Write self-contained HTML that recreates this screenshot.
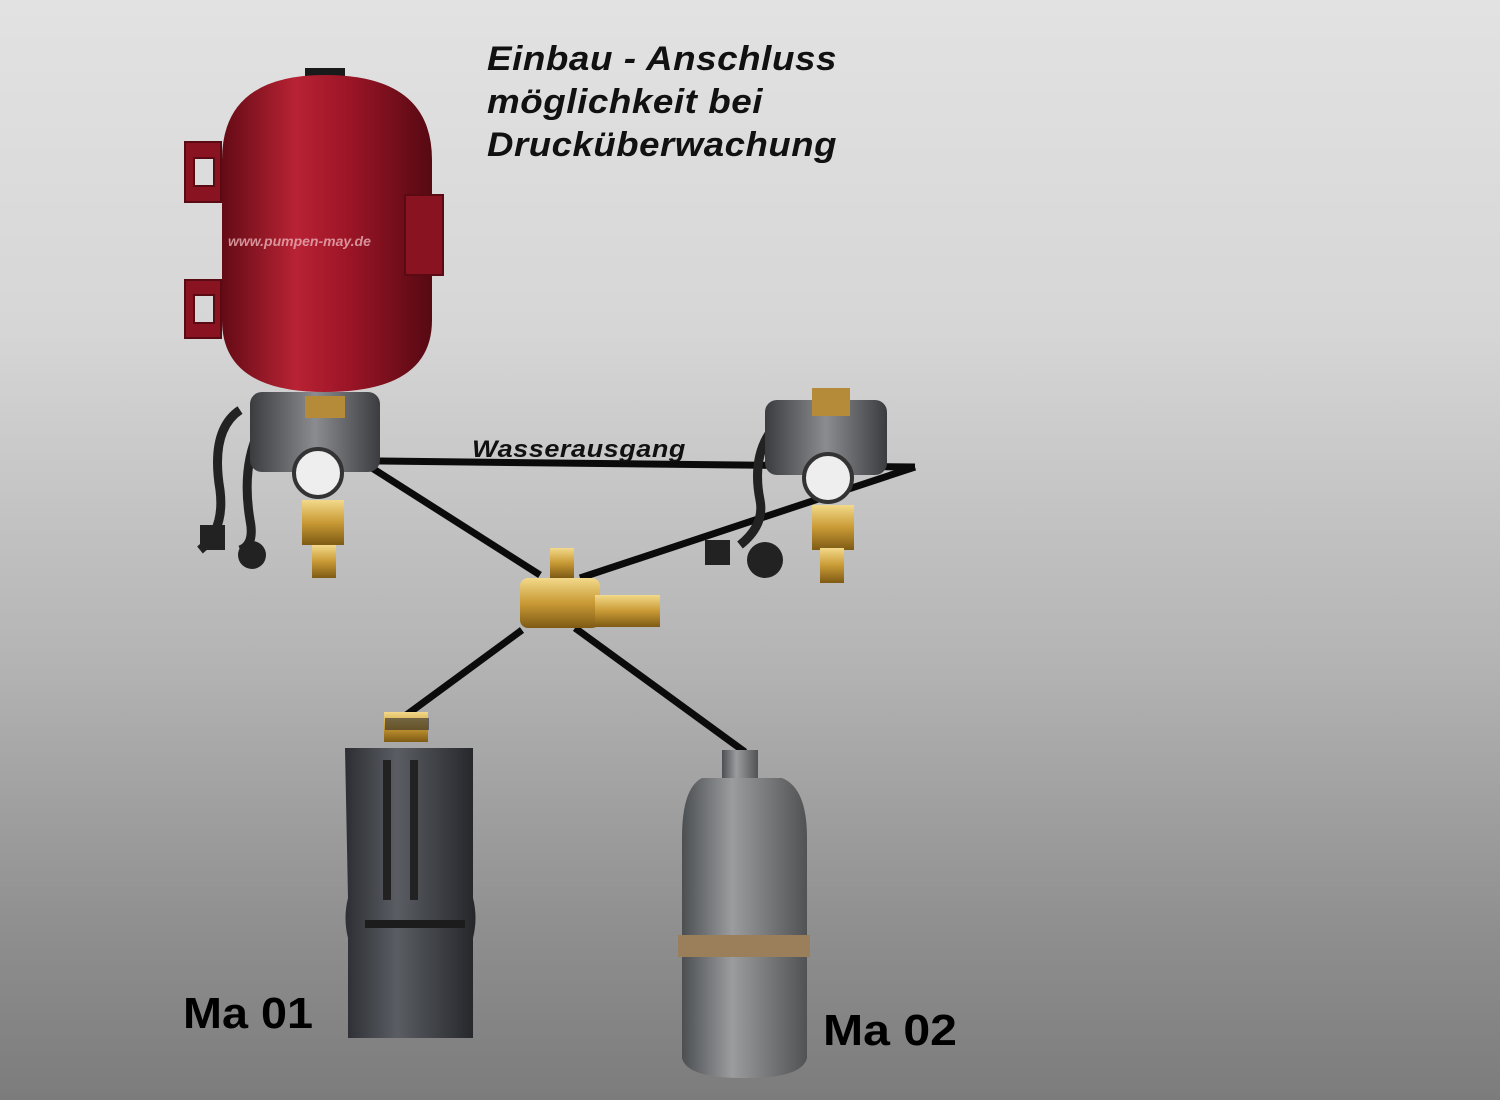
<!DOCTYPE html>
<html><head><meta charset="utf-8"><style>
html,body{margin:0;padding:0;}
body{width:1500px;height:1100px;overflow:hidden;background:linear-gradient(#e2e2e2 0%,#d6d6d6 30%,#b4b4b4 60%,#8e8e8e 85%,#7c7c7c 100%);}
</style></head><body>
<svg width="1500" height="1100" xmlns="http://www.w3.org/2000/svg" style="position:absolute;left:0;top:0">
<defs>
<linearGradient id="red" x1="0" x2="1"><stop offset="0" stop-color="#640b15"/><stop offset="0.35" stop-color="#b82234"/><stop offset="0.6" stop-color="#9c1527"/><stop offset="1" stop-color="#560912"/></linearGradient>
<linearGradient id="dk" x1="0" x2="1"><stop offset="0" stop-color="#2c2e33"/><stop offset="0.4" stop-color="#5a5d63"/><stop offset="1" stop-color="#24262a"/></linearGradient>
<linearGradient id="gr" x1="0" x2="1"><stop offset="0" stop-color="#4c4f52"/><stop offset="0.4" stop-color="#9a9c9e"/><stop offset="1" stop-color="#505254"/></linearGradient>
<linearGradient id="brass" x1="0" x2="0" y1="0" y2="1"><stop offset="0" stop-color="#f2d98a"/><stop offset="0.5" stop-color="#c99a35"/><stop offset="1" stop-color="#7e5a14"/></linearGradient>
<linearGradient id="sw" x1="0" x2="1"><stop offset="0" stop-color="#3a3c40"/><stop offset="0.5" stop-color="#8a8c90"/><stop offset="1" stop-color="#3a3c40"/></linearGradient>
</defs>
<g stroke="#0b0b0b" stroke-width="7" fill="none">
<line x1="378" y1="461" x2="915" y2="467"/>
<line x1="915" y1="467" x2="580" y2="578"/>
<line x1="372" y1="468" x2="540" y2="575"/>
<line x1="522" y1="630" x2="405" y2="716"/>
<line x1="575" y1="628" x2="745" y2="752"/>
</g>
<rect x="305" y="68" width="40" height="14" fill="#1a1a1a"/>
<path d="M222 160 Q222 75 325 75 Q432 75 432 160 L432 320 Q432 392 325 392 Q222 392 222 320 Z" fill="url(#red)"/>
<g fill="#8a1322" stroke="#5a0a12" stroke-width="2">
<path d="M185 142 h36 v60 h-36 z M194 158 h20 v28 h-20 z" fill-rule="evenodd"/>
<path d="M185 280 h36 v58 h-36 z M194 295 h20 v28 h-20 z" fill-rule="evenodd"/>
<path d="M405 195 h38 v80 h-38 z"/>
</g>
<text x="228" y="246" font-family="Liberation Sans,sans-serif" font-style="italic" font-weight="bold" font-size="14" fill="#e8b0b6" opacity="0.8">www.pumpen-may.de</text>
<g>
<path d="M240 410 q-30 20 -20 80 q5 40 -20 60" stroke="#222" stroke-width="9" fill="none"/>
<path d="M265 420 q-25 40 -15 100 q5 25 -10 30" stroke="#222" stroke-width="9" fill="none"/>
<rect x="250" y="392" width="130" height="80" rx="12" fill="url(#sw)"/>
<rect x="305" y="396" width="40" height="22" fill="#b58b3a"/>
<circle cx="318" cy="473" r="24" fill="#eee" stroke="#333" stroke-width="4"/>
<rect x="302" y="500" width="42" height="45" fill="url(#brass)"/>
<rect x="312" y="545" width="24" height="33" fill="url(#brass)"/>
<rect x="200" y="525" width="25" height="25" fill="#222"/>
<circle cx="252" cy="555" r="14" fill="#222"/>
</g>
<g>
<path d="M780 420 q-30 30 -20 80 q5 25 -20 45" stroke="#222" stroke-width="9" fill="none"/>
<rect x="765" y="400" width="122" height="75" rx="12" fill="url(#sw)"/>
<rect x="812" y="388" width="38" height="28" fill="#b58b3a"/>
<circle cx="828" cy="478" r="24" fill="#eee" stroke="#333" stroke-width="4"/>
<rect x="812" y="505" width="42" height="45" fill="url(#brass)"/>
<rect x="820" y="548" width="24" height="35" fill="url(#brass)"/>
<rect x="705" y="540" width="25" height="25" fill="#222"/>
<circle cx="765" cy="560" r="18" fill="#222"/>
</g>
<rect x="550" y="548" width="24" height="30" fill="url(#brass)"/>
<rect x="520" y="578" width="80" height="50" rx="8" fill="url(#brass)"/>
<rect x="595" y="595" width="65" height="32" fill="url(#brass)"/>
<rect x="384" y="712" width="44" height="30" fill="url(#brass)"/>
<rect x="385" y="718" width="44" height="12" fill="#2a2a2a" opacity="0.6"/>
<path d="M345 748 h128 v150 q5 20 0 40 v100 h-125 v-100 q-5 -20 0 -40 z" fill="url(#dk)"/>
<rect x="383" y="760" width="8" height="140" fill="#222"/><rect x="410" y="760" width="8" height="140" fill="#222"/>
<rect x="365" y="920" width="100" height="8" fill="#1c1c1c"/>
<rect x="722" y="750" width="36" height="28" fill="url(#gr)"/>
<path d="M702 778 h80 q25 10 25 60 v220 q-5 20 -60 20 h-5 q-55 0 -60 -20 v-220 q0 -50 20 -60 z" fill="url(#gr)"/>
<rect x="678" y="935" width="132" height="22" fill="#9a7f5a"/>
<g font-family="Liberation Sans,sans-serif" font-weight="bold" font-style="italic" fill="#111" letter-spacing="0.5">
<text x="487" y="70" font-size="34" textLength="350" lengthAdjust="spacingAndGlyphs">Einbau - Anschluss</text>
<text x="487" y="113" font-size="34" textLength="276" lengthAdjust="spacingAndGlyphs">möglichkeit bei</text>
<text x="487" y="156" font-size="34" textLength="350" lengthAdjust="spacingAndGlyphs">Drucküberwachung</text>
<text x="472" y="457" font-size="24" textLength="214" lengthAdjust="spacingAndGlyphs">Wasserausgang</text>
</g>
<g font-family="Liberation Sans,sans-serif" font-weight="bold" fill="#000" font-size="44">
<text x="183" y="1028" textLength="130" lengthAdjust="spacingAndGlyphs">Ma 01</text>
<text x="823" y="1045" textLength="134" lengthAdjust="spacingAndGlyphs">Ma 02</text>
</g>
</svg>
</body></html>
